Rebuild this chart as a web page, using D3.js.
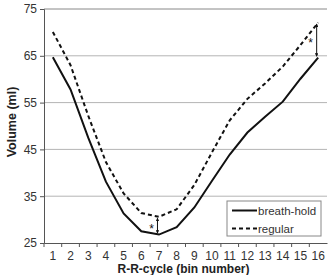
<!DOCTYPE html>
<html lang="en">
<head>
  <meta charset="UTF-8">
  <title>Volume per R-R-cycle bin</title>
  <script src="https://d3js.org/d3.v7.min.js"></script>
  <style>
    body { margin: 0; background: #fff; }
    text { font-family: "Liberation Sans", Arial, sans-serif; }
  </style>
</head>
<body>
  <div id="chart"></div>

  <script>
    // bins on the x axis
    const bins = [1, 2, 3, 4, 5, 6, 7, 8, 9, 10, 11, 12, 13, 14, 15, 16];
    // volumes (ml)
    const breathHold = [64.7, 57.8, 47.5, 38.1, 31.3, 27.5, 26.8, 28.4, 32.6, 38.3, 43.9, 48.6, 52.0, 55.2, 60.1, 64.6];
    const regular = [70.1, 63.0, 52.2, 42.3, 35.6, 31.4, 30.6, 32.2, 37.4, 44.4, 51.2, 55.8, 59.1, 62.7, 67.3, 72.1];
    const yTicks = [25, 35, 45, 55, 65, 75];

    const width = 328, height = 275;
    const margin = { top: 9, right: 1, bottom: 32, left: 44 };
    const innerW = width - margin.left - margin.right;
    const innerH = height - margin.top - margin.bottom;

    const svg = d3.select("#chart")
      .append("svg")
      .attr("width", width)
      .attr("height", height);

    const g = svg.append("g")
      .attr("transform", "translate(" + margin.left + "," + margin.top + ")");

    const x = d3.scaleBand()
      .domain(bins)
      .range([0, innerW]);

    const y = d3.scaleLinear()
      .domain([25, 75])
      .range([innerH, 0]);

    // horizontal grid lines
    g.selectAll(".grid")
      .data(yTicks.slice(1))
      .enter().append("line")
        .attr("x1", 0)
        .attr("x2", innerW)
        .attr("y1", d => y(d))
        .attr("y2", d => y(d))
        .style("stroke", d => d === 75 ? "#888" : "#b4b4b4")
        .style("stroke-width", 1);

    // y axis
    const yAxis = g.append("g")
      .call(d3.axisLeft(y).tickValues(yTicks).tickSize(4).tickPadding(3));
    yAxis.select(".domain").style("stroke", "#555");
    yAxis.selectAll(".tick line").style("stroke", "#555");
    yAxis.selectAll("text")
      .style("font-size", "12px")
      .style("fill", "#333");

    // x axis: ticks on the bin boundaries
    const xAxis = g.append("g")
      .attr("transform", "translate(0," + innerH + ")")
      .call(d3.axisBottom(x).tickSize(0).tickPadding(8));
    xAxis.select(".domain").style("stroke", "#555");
    xAxis.selectAll("text")
      .style("font-size", "12px")
      .style("fill", "#333");
    xAxis.selectAll(".bound")
      .data(bins)
      .enter().append("line")
        .attr("x1", d => x(d))
        .attr("x2", d => x(d))
        .attr("y1", 0)
        .attr("y2", 4)
        .style("stroke", "#555");

    // lines
    const line = d3.line()
      .x((d, i) => x(bins[i]) + x.bandwidth() / 2)
      .y(d => y(d));

    g.append("path")
      .datum(breathHold)
      .attr("d", line)
      .style("fill", "none")
      .style("stroke", "#111")
      .style("stroke-width", 2);

    g.append("path")
      .datum(regular)
      .attr("d", line)
      .style("fill", "none")
      .style("stroke", "#111")
      .style("stroke-width", 2)
      .style("stroke-dasharray", "4,3");

    // significance markers at bins 7 and 16
    const marks = [7, 16];
    svg.append("defs").append("marker")
      .attr("id", "arr")
      .attr("viewBox", "0 0 6 6")
      .attr("refX", 5).attr("refY", 3)
      .attr("markerWidth", 3.5).attr("markerHeight", 3.5)
      .attr("orient", "auto-start-reverse")
      .append("path")
        .attr("d", "M0,0L6,3L0,6Z")
        .style("fill", "#111");

    marks.forEach(b => {
      const i = bins.indexOf(b);
      const cx = x(b) + x.bandwidth() / 2 - 1.5;
      g.append("line")
        .attr("x1", cx).attr("x2", cx)
        .attr("y1", y(regular[i]) + 1.5)
        .attr("y2", y(breathHold[i]) - 1.5)
        .style("stroke", "#111")
        .style("stroke-width", 1)
        .attr("marker-start", "url(#arr)")
        .attr("marker-end", "url(#arr)");
      g.append("text")
        .attr("x", cx - 6)
        .attr("y", (y(regular[i]) + y(breathHold[i])) / 2 + 7)
        .style("text-anchor", "middle")
        .style("font-size", "12px")
        .style("fill", "#111")
        .text("*");
    });

    // legend
    const legend = g.append("g")
      .attr("transform", "translate(" + (227 - margin.left) + "," + (201 - margin.top) + ")");
    legend.append("rect")
      .attr("width", 94)
      .attr("height", 35)
      .style("fill", "#fff")
      .style("stroke", "#888");
    [["breath-hold", null], ["regular", "4,3"]].forEach((it, k) => {
      const ly = 9.5 + k * 18;
      legend.append("line")
        .attr("x1", 5).attr("x2", 30)
        .attr("y1", ly).attr("y2", ly)
        .style("stroke", "#111")
        .style("stroke-width", 2)
        .style("stroke-dasharray", it[1]);
      legend.append("text")
        .attr("x", 31)
        .attr("y", ly + 4)
        .style("font-size", "11.5px")
        .style("fill", "#333")
        .text(it[0]);
    });

    // axis titles
    svg.append("text")
      .attr("x", margin.left + innerW / 2 - 2)
      .attr("y", 273)
      .style("text-anchor", "middle")
      .style("font-size", "12px")
      .style("font-weight", "bold")
      .style("fill", "#222")
      .text("R-R-cycle (bin number)");

    svg.append("text")
      .attr("transform", "rotate(-90)")
      .attr("x", -122)
      .attr("y", 16)
      .style("text-anchor", "middle")
      .style("font-size", "12.5px")
      .style("font-weight", "bold")
      .style("fill", "#222")
      .text("Volume (ml)");
  </script>
</body>
</html>
